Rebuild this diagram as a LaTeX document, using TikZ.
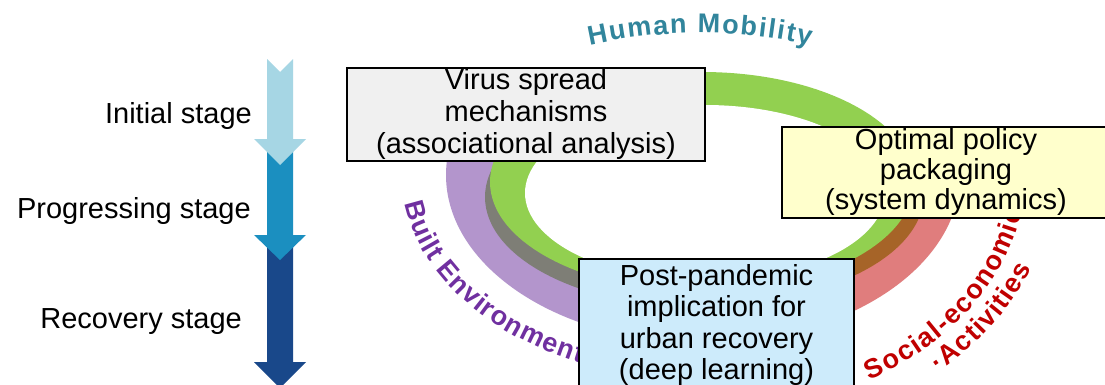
\documentclass[tikz,border=0pt]{standalone}
\usepackage{fontspec}
\setmainfont{Liberation Sans}
\usetikzlibrary{decorations.text}
\definecolor{arrowA}{RGB}{166,214,228}
\definecolor{arrowB}{RGB}{27,143,192}
\definecolor{arrowC}{RGB}{25,72,138}
\definecolor{ringgreen}{RGB}{146,208,80}
\definecolor{ringpurple}{RGB}{179,149,204}
\definecolor{ringred}{RGB}{224,125,125}
\definecolor{shadegray}{RGB}{126,126,118}
\definecolor{shadebrown}{RGB}{166,100,40}
\definecolor{boxgray}{RGB}{240,240,240}
\definecolor{boxyellow}{RGB}{255,255,204}
\definecolor{boxblue}{RGB}{205,235,251}
\definecolor{humancol}{RGB}{49,133,156}
\definecolor{builtcol}{RGB}{112,48,160}
\definecolor{socialcol}{RGB}{192,0,0}
\tikzset{
  stagelabel/.style={anchor=base east, font=\fontsize{29bp}{32bp}\selectfont, inner sep=0pt},
  methodbox/.style={draw=black, line width=1.6bp, inner sep=0pt, align=center},
  curvedtext/.style={decorate, decoration={text along path, text align={fit to path}, text={#1}}},
}
\begin{document}
\begin{tikzpicture}[x=1bp, y=1bp]
\useasboundingbox (0,0) rectangle (1105,384);
\fill[white] (0,0) rectangle (1105,384);
% stage arrows
\fill[arrowC] (267,149) -- (280,136) -- (293,149) -- (293,22) -- (306,22) -- (280,-4) -- (254,22) -- (267,22) -- cycle;
\fill[arrowB] (267,245) -- (280,232) -- (293,245) -- (293,149) -- (306,149) -- (280,124) -- (254,149) -- (267,149) -- cycle;
\fill[arrowA] (267,325) -- (280,312) -- (293,325) -- (293,245) -- (306,245) -- (280,219) -- (254,245) -- (267,245) -- cycle;
\node[stagelabel] (initial) at (252,261) {Initial stage};
\node[stagelabel] (progressing) at (251,166) {Progressing stage};
\node[stagelabel] (recovery) at (242,56) {Recovery stage};
% ring
\begin{scope}
  \clip (0,0) rectangle (703,257);
  \fill[ringpurple] (703,209) ellipse [x radius=257bp, y radius=168bp];
  \fill[shadegray] (697,187) ellipse [x radius=212bp, y radius=110bp];
\end{scope}
\begin{scope}
  \clip (703,0) rectangle (1105,257);
  \fill[ringred] (703,209) ellipse [x radius=257bp, y radius=168bp];
  \fill[shadebrown] (712,190) ellipse [x radius=212bp, y radius=110bp];
\end{scope}
\fill[ringgreen] (702,202) ellipse [x radius=212bp, y radius=110bp];
\fill[white] (705,191) ellipse [x radius=180bp, y radius=88bp];
% curved labels
\path[curvedtext={|\fontsize{27bp}{30bp}\selectfont\bfseries\color{humancol}|Human Mobility}]
  (589.6,338.9) arc [start angle=102.5, end angle=77.5, radius=510bp];
\path[curvedtext={|\fontsize{27bp}{30bp}\selectfont\bfseries\color{builtcol}|Built Environment}]
  (404.9,180.3) arc [start angle=188, end angle=246, x radius=301bp, y radius=206bp];
\path[curvedtext={|\fontsize{27bp}{30bp}\selectfont\bfseries\color{socialcol}|Social-economic}]
  (869.7,3.9) arc [start angle=301, end angle=351, x radius=322bp, y radius=241bp];
\path[curvedtext={|\fontsize{27bp}{30bp}\selectfont\bfseries\color{socialcol}|·Activities}]
  (938.4,11.8) arc [start angle=312, end angle=339, x radius=351bp, y radius=270bp];
% method boxes
\node[methodbox, fill=boxgray, minimum width=358bp, minimum height=93bp,
  font=\fontsize{29bp}{32bp}\selectfont] (virus) at (526,269.5)
  {Virus spread\\mechanisms\\(associational analysis)};
\node[methodbox, fill=boxyellow, minimum width=328bp, minimum height=91bp,
  font=\fontsize{29bp}{30bp}\selectfont] (policy) at (946,211.5)
  {Optimal policy\\packaging\\(system dynamics)};
\node[methodbox, fill=boxblue, minimum width=275bp, minimum height=132bp,
  font=\fontsize{29bp}{31.5bp}\selectfont] (postpandemic) at (716.5,59)
  {Post-pandemic\\implication for\\urban recovery\\(deep learning)};
\end{tikzpicture}
\end{document}
